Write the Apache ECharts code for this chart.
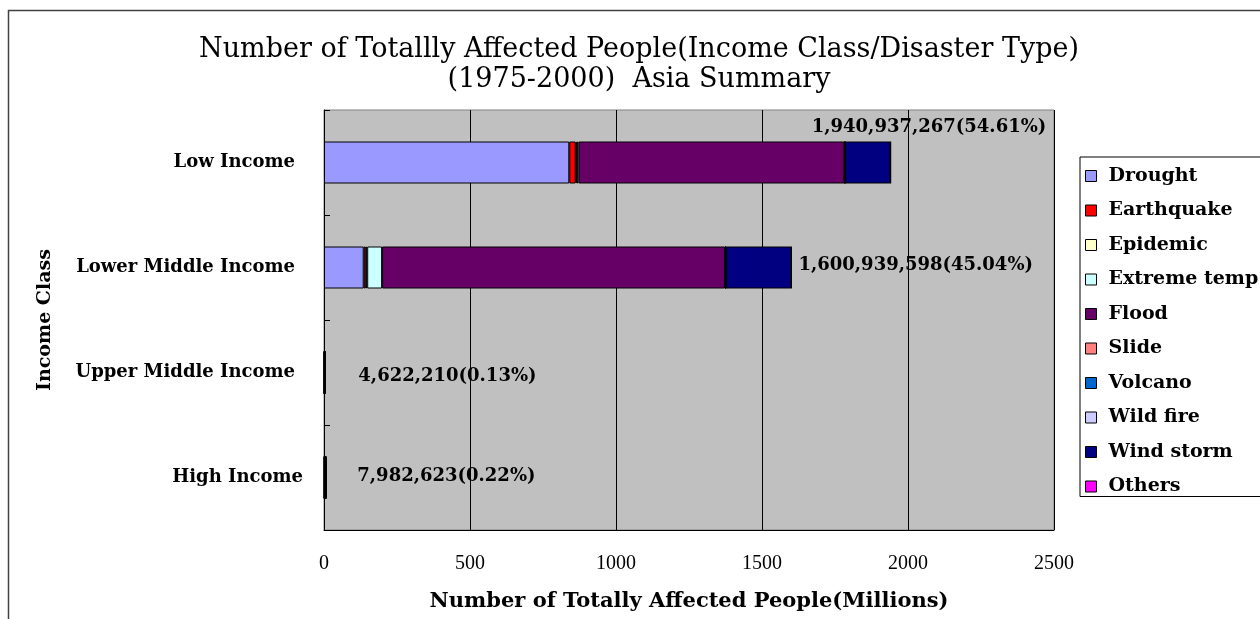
<!DOCTYPE html>
<html>
<head>
<meta charset="utf-8">
<title>Number of Totally Affected People - Asia Summary</title>
<script src="https://cdn.jsdelivr.net/npm/echarts@6/dist/echarts.min.js"></script>
<style>
  html, body { margin: 0; padding: 0; background: #ffffff; }
  #chart { width: 1260px; height: 619px; }
</style>
</head>
<body>
<div id="chart"></div>
<script>
// Income classes, top to bottom
const incomeClasses = ['Low Income', 'Lower Middle Income', 'Upper Middle Income', 'High Income'];

// Disaster types in stacking order, with their fill colours
const disasterTypes = ['Drought', 'Earthquake', 'Epidemic', 'Extreme temp', 'Flood', 'Slide', 'Volcano', 'Wild fire', 'Wind storm', 'Others'];
const disasterColors = ['#9999FF', '#FF0000', '#FFFFCC', '#CCFFFF', '#660066', '#FF8080', '#0066CC', '#CCCCFF', '#000080', '#FF00FF'];

// Affected people per disaster type (millions), one value per income class
const drought     = [840, 136, 0.5, 0.3];
const earthquake  = [22, 7, 0.5, 1.5];
const epidemic    = [4, 5, 0.1, 0.0];
const extremeTemp = [6, 51, 0.1, 0.2];
const flood       = [910, 1174, 2.0, 2.5];
const slide       = [2, 2, 0.1, 0.1];
const volcano     = [0, 1, 0.2, 0.3];
const wildFire    = [0, 0, 0, 0.1];
const windStorm   = [156, 224, 1.1, 3.0];
const others      = [1, 1, 0.02, 0.0];

// Totals per income class (people) and their share of all of Asia (%)
const totalPeople = [1940937267, 1600939598, 4622210, 7982623];
const sharePct = ['54.61', '45.04', '0.13', '0.22'];

// Axis ticks
const xTicks = { min: 0, max: 2500, interval: 500 };

const seriesValues = [drought, earthquake, epidemic, extremeTemp, flood, slide, volcano, wildFire, windStorm, others];

// Where each total label sits relative to the end of its bar
const totalLabelOffsets = [[-84, -35], [2, -2], [28, 4], [26, -1]];

function withCommas(n) {
  return String(n).replace(/\B(?=(\d{3})+(?!\d))/g, ',');
}

const serif = 'DejaVu Serif';
const BAR_W = 42;

const stackSeries = disasterTypes.map((name, i) => ({
  name: name,
  type: 'bar',
  stack: 'total',
  barWidth: BAR_W,
  data: seriesValues[i],
  itemStyle: { color: disasterColors[i], borderColor: '#000000', borderWidth: 1 },
  emphasis: { disabled: true },
  animation: false
}));

const totalSeries = {
  name: 'Total',
  type: 'bar',
  barWidth: BAR_W,
  barGap: '-100%',
  silent: true,
  z: 3,
  data: totalPeople.map((v, i) => ({
    value: v / 1e6,
    label: { offset: totalLabelOffsets[i] }
  })),
  itemStyle: { color: 'rgba(0,0,0,0)', borderWidth: 0 },
  label: {
    show: true,
    position: 'right',
    distance: 5,
    fontFamily: serif,
    fontWeight: 'bold',
    fontSize: 18,
    color: '#000000',
    formatter: p => withCommas(totalPeople[p.dataIndex]) + '(' + sharePct[p.dataIndex] + '%)'
  },
  emphasis: { disabled: true },
  animation: false
};

// Category labels: High Income sits a little closer to the axis
const categoryData = incomeClasses.map(c => ({
  value: c,
  textStyle: { padding: c === 'High Income' ? [3, 0, 0, 0] : [3, 8, 0, 0] }
}));

const chart = echarts.init(document.getElementById('chart'), null, { renderer: 'canvas' });

chart.setOption({
  animation: false,
  backgroundColor: '#ffffff',
  title: {
    text: 'Number of Totallly Affected People(Income Class/Disaster Type)\n(1975-2000)  Asia Summary',
    left: 634,
    top: 30,
    textAlign: 'center',
    textStyle: {
      fontFamily: serif,
      fontWeight: 'normal',
      fontSize: 27,
      lineHeight: 30,
      color: '#000000'
    }
  },
  graphic: [{
    type: 'rect',
    silent: true,
    shape: { x: 8.5, y: 10.5, width: 1300, height: 700 },
    style: { fill: 'none', stroke: '#404040', lineWidth: 1.5 }
  }],
  legend: {
    data: disasterTypes,
    orient: 'vertical',
    left: 1080,
    top: 157,
    padding: [9, 10, 0, 5],
    itemGap: 14.5,
    itemWidth: 11,
    itemHeight: 11,
    icon: 'rect',
    borderColor: '#000000',
    borderWidth: 1,
    backgroundColor: '#ffffff',
    selectedMode: false,
    itemStyle: { borderColor: '#000000', borderWidth: 1 },
    textStyle: {
      fontFamily: serif,
      fontWeight: 'bold',
      fontSize: 19,
      lineHeight: 20,
      color: '#000000',
      padding: [0, 0, 0, 7]
    }
  },
  grid: {
    left: 324,
    top: 110,
    width: 730,
    height: 420,
    show: true,
    backgroundColor: '#C0C0C0',
    borderColor: '#808080',
    borderWidth: 1,
    containLabel: false
  },
  xAxis: {
    type: 'value',
    min: xTicks.min,
    max: xTicks.max,
    interval: xTicks.interval,
    name: 'Number of Totally Affected People(Millions)',
    nameLocation: 'middle',
    nameGap: 61,
    nameTextStyle: {
      fontFamily: serif,
      fontWeight: 'bold',
      fontSize: 21,
      color: '#000000'
    },
    axisLine: { show: true, lineStyle: { color: '#000000', width: 1 } },
    axisTick: { show: false },
    axisLabel: {
      margin: 24,
      fontFamily: 'Liberation Serif',
      fontSize: 20,
      color: '#000000',
      formatter: v => String(v)
    },
    splitLine: { show: true, lineStyle: { color: '#000000', width: 1 } }
  },
  yAxis: {
    type: 'category',
    data: categoryData,
    inverse: true,
    name: 'Income Class',
    nameLocation: 'middle',
    nameGap: 269,
    nameRotate: 90,
    nameTextStyle: {
      fontFamily: serif,
      fontWeight: 'bold',
      fontSize: 19,
      color: '#000000'
    },
    axisLine: { show: true, lineStyle: { color: '#000000', width: 1 } },
    axisTick: { show: true, inside: true, length: 6, lineStyle: { color: '#000000' } },
    axisLabel: {
      margin: 21,
      fontFamily: serif,
      fontWeight: 'bold',
      fontSize: 18,
      color: '#000000'
    },
    splitLine: { show: false }
  },
  series: stackSeries.concat([totalSeries])
});
</script>
</body>
</html>
